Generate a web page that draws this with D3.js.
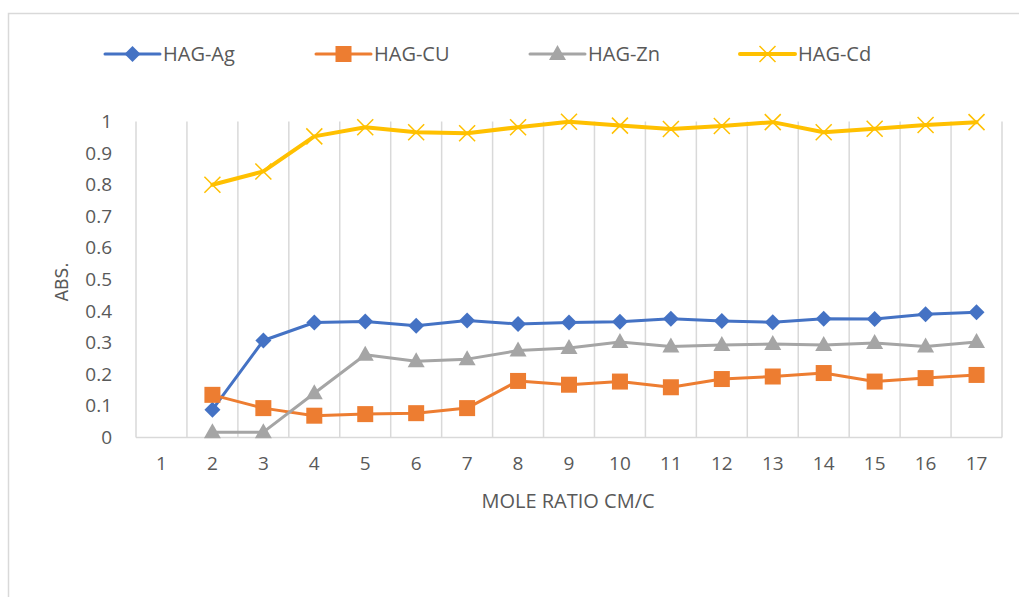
<!DOCTYPE html>
<html>
<head>
<meta charset="utf-8">
<script src="https://cdn.jsdelivr.net/npm/d3@7"></script>
<style>
  html, body { margin: 0; padding: 0; background: #fff; }
  svg { display: block; }
  text { font-family: "Open Sans", "Liberation Sans", sans-serif; fill: #595959; }
</style>
</head>
<body>
<div id="chart"></div>
<script>
// Mole ratio categories (x axis)
const categories = ["1","2","3","4","5","6","7","8","9","10","11","12","13","14","15","16","17"];

// Absorbance per series; category 1 has no reading
const agValues = [null, 0.088, 0.307, 0.364, 0.367, 0.354, 0.370, 0.359, 0.364, 0.366, 0.376, 0.369, 0.365, 0.376, 0.375, 0.390, 0.396];
const cuValues = [null, 0.135, 0.093, 0.069, 0.074, 0.077, 0.093, 0.179, 0.167, 0.177, 0.159, 0.185, 0.193, 0.204, 0.177, 0.188, 0.198];
const znValues = [null, 0.017, 0.017, 0.140, 0.262, 0.241, 0.248, 0.275, 0.283, 0.302, 0.288, 0.293, 0.296, 0.293, 0.299, 0.288, 0.302];
const cdValues = [null, 0.800, 0.842, 0.953, 0.982, 0.966, 0.963, 0.982, 0.999, 0.987, 0.976, 0.986, 0.998, 0.966, 0.977, 0.989, 0.998];

const yTicks = [0, 0.1, 0.2, 0.3, 0.4, 0.5, 0.6, 0.7, 0.8, 0.9, 1];
const seriesNames = ["HAG-Ag", "HAG-CU", "HAG-Zn", "HAG-Cd"];

const series = [
  { name: seriesNames[0], values: agValues, color: "#4472C4", marker: "diamond", width: 3 },
  { name: seriesNames[1], values: cuValues, color: "#ED7D31", marker: "square", width: 3 },
  { name: seriesNames[2], values: znValues, color: "#A5A5A5", marker: "triangle", width: 3 },
  { name: seriesNames[3], values: cdValues, color: "#FFC000", marker: "cross", width: 4 }
];

const W = 1019, H = 597;
const plot = { left: 136, right: 1002, top: 121.5, bottom: 437.5 };

const svg = d3.select("#chart").append("svg")
  .attr("width", W).attr("height", H);

// chart frame
svg.append("rect")
  .attr("x", 8.5).attr("y", 13.5)
  .attr("width", 1030).attr("height", 620)
  .attr("fill", "#fff").attr("stroke", "#d9d9d9").attr("stroke-width", 1.5);

const x = d3.scaleBand().domain(categories).range([plot.left, plot.right]).padding(0);
const y = d3.scaleLinear().domain([0, 1]).range([plot.bottom, plot.top]);

// vertical gridlines at category boundaries
const bounds = categories.map(c => x(c)).concat([x.range()[1]]);
svg.append("g").selectAll("line").data(bounds).join("line")
  .attr("x1", d => d).attr("x2", d => d)
  .attr("y1", plot.top).attr("y2", plot.bottom)
  .attr("stroke", "#d9d9d9").attr("stroke-width", 1.5);

// x axis line
svg.append("line")
  .attr("x1", plot.left).attr("x2", plot.right)
  .attr("y1", plot.bottom).attr("y2", plot.bottom)
  .attr("stroke", "#d9d9d9").attr("stroke-width", 1.5);

// y tick labels
const yAxis = d3.axisLeft(y).tickValues(yTicks).tickSize(0).tickPadding(24)
  .tickFormat(d => d3.format("~g")(d));
const gy = svg.append("g").attr("transform", `translate(${plot.left},0)`).call(yAxis);
gy.select(".domain").remove();
gy.selectAll("text").style("font-size", "19px").attr("fill", "#595959")
  .style("font-family", '"Open Sans", sans-serif');

// x tick labels
const xAxis = d3.axisBottom(x).tickSize(0).tickPadding(19);
const gx = svg.append("g").attr("transform", `translate(0,${plot.bottom})`).call(xAxis);
gx.select(".domain").remove();
gx.selectAll("text").style("font-size", "19px").attr("fill", "#595959")
  .style("font-family", '"Open Sans", sans-serif');

// axis titles
svg.append("text")
  .attr("x", 568).attr("y", 508)
  .attr("text-anchor", "middle")
  .style("font-size", "20px")
  .text("MOLE RATIO CM/C");

svg.append("text")
  .attr("transform", "translate(68,282) rotate(-90)")
  .attr("text-anchor", "middle")
  .style("font-size", "17px")
  .style("font-family", '"DejaVu Sans", sans-serif')
  .text("ABS.");

const cx = c => x(c) + x.bandwidth() / 2;

function drawMarker(g, type, color, px, py) {
  if (type === "diamond") {
    g.append("path")
      .attr("d", `M${px},${py - 8}L${px + 8},${py}L${px},${py + 8}L${px - 8},${py}Z`)
      .attr("fill", color);
  } else if (type === "square") {
    g.append("rect")
      .attr("x", px - 8).attr("y", py - 8).attr("width", 16).attr("height", 16)
      .attr("fill", color);
  } else if (type === "triangle") {
    g.append("path")
      .attr("d", `M${px},${py - 9}L${px + 8.5},${py + 6}L${px - 8.5},${py + 6}Z`)
      .attr("fill", color);
  } else if (type === "cross") {
    g.append("path")
      .attr("d", `M${px - 8},${py - 8}L${px + 8},${py + 8}M${px + 8},${py - 8}L${px - 8},${py + 8}`)
      .attr("stroke", color).attr("stroke-width", 1.5).attr("fill", "none");
  }
}

// series lines and markers
series.forEach(s => {
  const pts = categories.map((c, i) => ({ c, v: s.values[i] })).filter(d => d.v != null);
  const line = d3.line().x(d => cx(d.c)).y(d => y(d.v));
  svg.append("path").datum(pts)
    .attr("d", line)
    .attr("fill", "none")
    .attr("stroke", s.color)
    .attr("stroke-width", s.width)
    .attr("stroke-linejoin", "round")
    .attr("stroke-linecap", "round");
  const g = svg.append("g");
  pts.forEach(d => drawMarker(g, s.marker, s.color, cx(d.c), y(d.v)));
});

// legend
const legendX = [105, 316, 530, 740];
series.forEach((s, i) => {
  const g = svg.append("g").attr("transform", `translate(${legendX[i]},54)`);
  g.append("line").attr("x1", 0).attr("x2", 55).attr("y1", 0).attr("y2", 0)
    .attr("stroke", s.color).attr("stroke-width", s.width).attr("stroke-linecap", "round");
  drawMarker(g, s.marker, s.color, 27.5, 0);
  g.append("text").attr("x", 58).attr("y", 7)
    .style("font-size", "20px")
    .text(s.name);
});
</script>
</body>
</html>
